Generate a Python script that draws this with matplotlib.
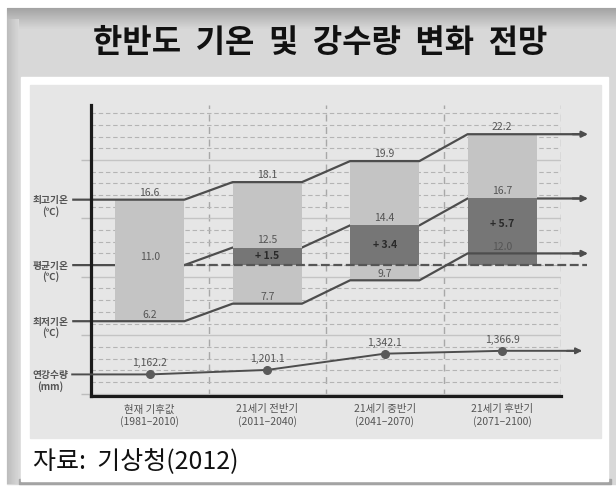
import numpy as np
import matplotlib
matplotlib.use("Agg")
import matplotlib.pyplot as plt
from matplotlib.patches import Rectangle
from matplotlib.ticker import MultipleLocator

plt.rcParams["font.family"] = ["Noto Sans CJK KR", "DejaVu Sans"]

# ---- data -------------------------------------------------------------
periods = ["현재 기후값\n(1981–2010)", "21세기 전반기\n(2011–2040)",
           "21세기 중반기\n(2041–2070)", "21세기 후반기\n(2071–2100)"]
t_max = [16.6, 18.1, 19.9, 22.2]
t_mean = [11.0, 12.5, 14.4, 16.7]
t_min = [6.2, 7.7, 9.7, 12.0]
precip = [1162.2, 1201.1, 1342.1, 1366.9]
row_labels = ["최고기온\n(℃)", "평균기온\n(℃)", "최저기온\n(℃)", "연강수량\n(mm)"]

title = "한반도  기온  및  강수량  변화  전망"
source = "자료:  기상청(2012)"

# ---- style ------------------------------------------------------------
LINE = "#4d4d4d"
TXT = "#555555"
BAR_LIGHT = "#c4c4c4"
BAR_DARK = "#767676"
PANEL = "#e6e6e6"
W = 0.59

fig = plt.figure(figsize=(6.16, 4.86), dpi=100)
fig.patch.set_facecolor("white")

# background frame drawn in pixel coordinates
bg = fig.add_axes([0, 0, 1, 1])
bg.set_xlim(0, 616)
bg.set_ylim(486, 0)
bg.axis("off")
bg.add_patch(Rectangle((7, 8), 609, 476, color="#d8d8d8", zorder=0))
top_grad = np.linspace(0.64, 0.85, 30)[:, None]
bg.imshow(top_grad, extent=(7, 616, 30, 8), cmap="gray", vmin=0, vmax=1,
          aspect="auto", zorder=1)
left_grad = np.linspace(0.74, 0.84, 12)[None, :]
bg.imshow(left_grad, extent=(7, 19, 484, 20), cmap="gray", vmin=0, vmax=1,
          aspect="auto", zorder=1)
bg.add_patch(Rectangle((19, 479), 592, 5, color="#a3a3a3", zorder=2))
bg.add_patch(Rectangle((21, 77), 587, 404, color="white", zorder=3))
bg.add_patch(Rectangle((30, 85), 571, 353, color=PANEL, zorder=4))
bg.text(320, 43, title, ha="center", va="center", fontsize=23,
        fontweight="bold", color="#111111", zorder=5)
bg.text(33, 462, source, ha="left", va="center", fontsize=18,
        color="#111111", zorder=5)

# ---- chart axes -------------------------------------------------------
ax = fig.add_axes([91 / 616, 1 - 396 / 486, 470 / 616, 291 / 486])
ax.set_facecolor("none")
x = np.arange(len(periods))
ax.set_xlim(-0.5, 3.5)
ax.set_ylim(-0.2, 24.7)

for s in ["top", "right"]:
    ax.spines[s].set_visible(False)
for s in ["left", "bottom"]:
    ax.spines[s].set_color("#1a1a1a")
    ax.spines[s].set_linewidth(2.3)
    ax.spines[s].set_zorder(6)

ax.yaxis.set_major_locator(MultipleLocator(5))
ax.yaxis.set_minor_locator(MultipleLocator(1))
ax.set_yticklabels([])
ax.tick_params(axis="y", which="major", length=7, width=1, color="#bdbdbd")
ax.tick_params(axis="y", which="minor", length=0)
ax.grid(axis="y", which="major", color="#c4c4c4", linewidth=1, linestyle="-")
ax.grid(axis="y", which="minor", color="#b4b4b4", linewidth=0.8,
        linestyle=(0, (4, 2.5)))
ax.set_xticks(x)
ax.set_xticklabels(periods, fontsize=7.5, color=TXT, linespacing=1.15)
ax.set_xticks(x + 0.5, minor=True)
ax.tick_params(axis="x", which="both", length=0, pad=6)
ax.grid(axis="x", which="minor", color="#a8a8a8", linewidth=1,
        linestyle=(0, (5, 4)))
ax.grid(axis="x", which="major", visible=False)
ax.set_axisbelow(True)

# bars: min..max range and warming above the present mean
ax.bar(x, np.subtract(t_max, t_min), bottom=t_min, width=W,
       color=BAR_LIGHT, zorder=2)
base = t_mean[0]
rise = np.subtract(t_mean, base)
ax.bar(x[1:], rise[1:], bottom=base, width=W, color=BAR_DARK, zorder=2.5)


def step_path(vals):
    xs, ys = [-0.66], [vals[0]]
    for xi, v in zip(x, vals):
        xs += [xi - W / 2, xi + W / 2]
        ys += [v, v]
    xs.append(3.71)
    ys.append(vals[-1])
    return xs, ys


for vals, z in [(t_max, 4), (t_mean, 1.8), (t_min, 4)]:
    xs, ys = step_path(vals)
    ax.plot(xs, ys, color=LINE, linewidth=1.6, zorder=z, clip_on=False,
            solid_capstyle="butt")
    ax.annotate("", xy=(3.73, vals[-1]), xytext=(3.6, vals[-1]),
                arrowprops=dict(arrowstyle="-|>", color=LINE, lw=1.6,
                                mutation_scale=9, shrinkA=0, shrinkB=0),
                zorder=z, annotation_clip=False)

# present-mean reference line
ax.plot([W / 2, 3.72], [base, base], color="#555555", linewidth=1.6,
        linestyle=(0, (4, 1.6)), zorder=3, clip_on=False)

# value labels
for xi, v in zip(x, t_max):
    ax.annotate(f"{v:.1f}", (xi, v), xytext=(0, 5), textcoords="offset points",
                ha="center", va="center", fontsize=7.5, color=TXT, zorder=7)
for xi, v in zip(x, t_mean):
    ax.annotate(f"{v:.1f}", (xi, v), xytext=(0, 5.5), textcoords="offset points",
                ha="center", va="center", fontsize=7.5, color=TXT, zorder=7)
for xi, v in zip(x, t_min):
    ax.annotate(f"{v:.1f}", (xi, v), xytext=(0, 4.8), textcoords="offset points",
                ha="center", va="center", fontsize=7.5, color=TXT, zorder=7)
for xi, r in zip(x[1:], rise[1:]):
    y_mid = base + r / 2 + (0.7 if r > 5 else 0)
    ax.text(xi, y_mid, f"+ {r:.1f}", ha="center", va="center", fontsize=7.5,
            fontweight="bold", color="#2a2a2a", zorder=7)

# left row labels
for lab, v in zip(row_labels[:3], [t_max[0], t_mean[0], t_min[0]]):
    ax.annotate(lab, (-0.845, v), xytext=(0, -4.5), textcoords="offset points",
                ha="center", va="center", fontsize=7, fontweight="bold",
                color=TXT, linespacing=1.1, annotation_clip=False)

# precipitation on its own scale
ax2 = ax.twinx()
ax2.set_ylim(975, 3499)
ax2.axis("off")
px = [-0.66] + list(x) + [3.66]
py = [precip[0]] + precip + [precip[-1]]
ax2.plot(px, py, color=LINE, linewidth=1.4, zorder=4, clip_on=False)
ax2.plot(x, precip, "o", color="#5a5a5a", markersize=5.5, zorder=5)
ax2.annotate("", xy=(3.68, precip[-1]), xytext=(3.55, precip[-1]),
             arrowprops=dict(arrowstyle="-|>", color=LINE, lw=1.4,
                             mutation_scale=9, shrinkA=0, shrinkB=0),
             annotation_clip=False)
for xi, v in zip(x, precip):
    ax2.annotate(f"{v:,.1f}", (xi, v), xytext=(0, 8), textcoords="offset points",
                 ha="center", va="center", fontsize=7.5, color=TXT)
ax2.annotate(row_labels[3], (-0.845, precip[0]), xytext=(0, -4.5),
             textcoords="offset points", ha="center", va="center",
             fontsize=7, fontweight="bold", color=TXT, linespacing=1.1,
             annotation_clip=False)

fig.savefig("out.png", dpi=100)
